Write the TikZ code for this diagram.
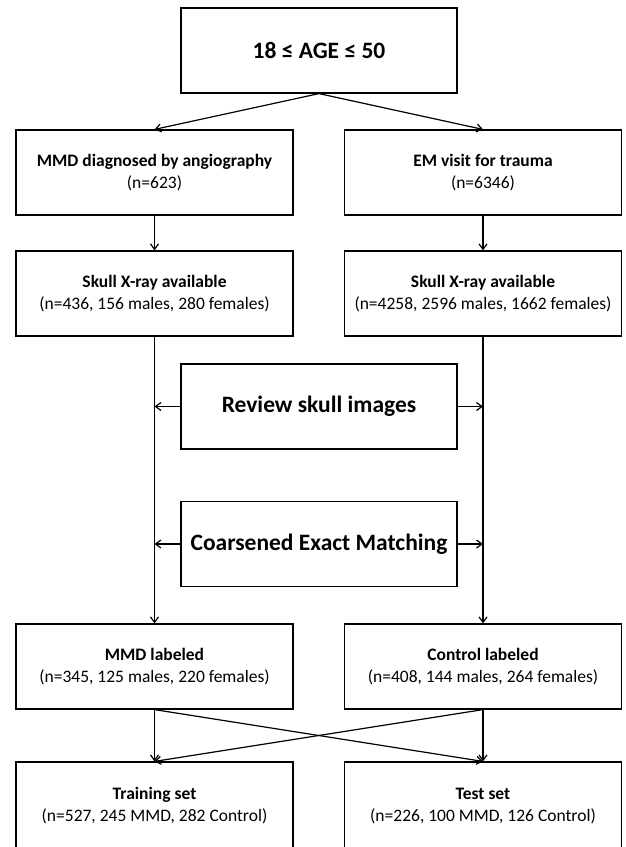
\documentclass[tikz,border=0pt]{standalone}
\usepackage{fontspec}
\setmainfont{Carlito}
\usetikzlibrary{arrows.meta}

\begin{document}
\begin{tikzpicture}[x=1pt,y=-1pt,
    box/.style={draw, line width=1.2pt, minimum width=277pt, minimum height=85pt,
      inner sep=0pt, align=center, font=\fontsize{17.5}{22}\selectfont},
    bigbox/.style={box, minimum width=276pt, font=\fontsize{23.5}{28}\selectfont\bfseries},
    flow/.style={line width=1.2pt, -{Straight Barb[length=5.5pt,width=8pt]}}]
  \clip (0,0) rectangle (625,847);
  \node[bigbox] (age) at (319,50.5) {18 ≤ AGE ≤ 50};
  \node[box] (mmd) at (154.5,172.5) {\textbf{MMD diagnosed by angiography}\\(n=623)};
  \node[box] (em) at (483,172.5) {\textbf{EM visit for trauma}\\(n=6346)};
  \node[box] (xl) at (154.5,293.5) {\textbf{Skull X-ray available}\\(n=436, 156 males, 280 females)};
  \node[box] (xr) at (483,293.5) {\textbf{Skull X-ray available}\\(n=4258, 2596 males, 1662 females)};
  \node[bigbox] (review) at (319,406.5) {Review skull images};
  \node[bigbox] (cem) at (319,544) {Coarsened Exact Matching};
  \node[box] (mmdl) at (154.5,666.5) {\textbf{MMD labeled}\\(n=345, 125 males, 220 females)};
  \node[box] (ctrl) at (483,666.5) {\textbf{Control labeled}\\(n=408, 144 males, 264 females)};
  \node[box, minimum height=88pt] (train) at (154.5,806) {\textbf{Training set}\\(n=527, 245 MMD, 282 Control)};
  \node[box, minimum height=88pt] (test) at (483,806) {\textbf{Test set}\\(n=226, 100 MMD, 126 Control)};

  \path[flow]
    (age.south) edge (mmd.north)
    (age.south) edge (em.north)
    (mmd) edge (xl)
    (em) edge (xr)
    (xl) edge (mmdl)
    (xr) edge (ctrl);

  \path[flow]
    (review.west) edge (review.west -| xl)
    (review.east) edge (review.east -| xr)
    (cem.west) edge (cem.west -| xl)
    (cem.east) edge (cem.east -| xr);

  \path[flow]
    (mmdl) edge (train)
    (ctrl) edge (test)
    (mmdl.south) edge (test.north)
    (ctrl.south) edge (train.north);
\end{tikzpicture}
\end{document}
